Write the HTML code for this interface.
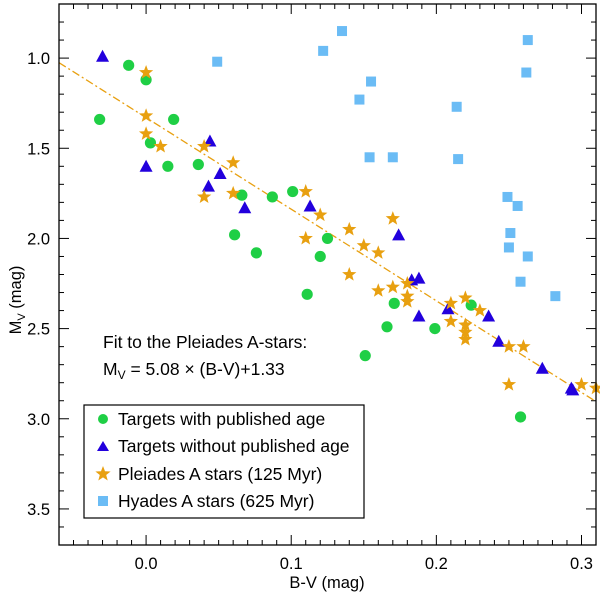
<!DOCTYPE html>
<html><head><meta charset="utf-8"><style>
body{margin:0;background:#fff;}
svg{display:block;font-family:"Liberation Sans",sans-serif;}
</style></head><body>
<svg id="chart" width="600" height="593" viewBox="0 0 600 593" xmlns="http://www.w3.org/2000/svg">
<g id="ticks"></g>
<g id="fit"></g>
<g id="marks"></g>
<rect x="59" y="4" width="537" height="541" fill="none" stroke="#000" stroke-width="1.3"/>
<text x="327" y="588" font-size="16.5" text-anchor="middle">B-V (mag)</text>
<text transform="translate(21,300) rotate(-90)" font-size="16.5" text-anchor="middle">M<tspan font-size="11" dy="4">V</tspan><tspan dy="-4"> (mag)</tspan></text>
<text x="103" y="348" font-size="17.5">Fit to the Pleiades A-stars:</text>
<text x="103" y="375" font-size="17.5">M<tspan font-size="12" dy="4">V</tspan><tspan dy="-4"> = 5.08 × (B-V)+1.33</tspan></text>
<g>
<rect x="84" y="405" width="280" height="113" fill="#fff" stroke="#000" stroke-width="1.2"/>
<circle cx="103" cy="419" r="5" fill="#1fcf45"/>
<text x="118" y="425" font-size="17.5">Targets with published age</text>
<polygon points="103,441 109,451 97,451" fill="#2200dd"/>
<text x="118" y="452" font-size="17.5">Targets without published age</text>
<polygon id="lstar" fill="#e8a010"/>
<text x="118" y="480" font-size="17.5">Pleiades A stars (125 Myr)</text>
<rect x="98" y="496" width="10" height="10" fill="#6bbcf5"/>
<text x="118" y="507" font-size="17.5">Hyades A stars (625 Myr)</text>
</g>
</svg>
<script>
const xTicks=[0.0,0.1,0.2,0.3];
const xTickLabels=["0.0","0.1","0.2","0.3"];
const yTicks=[1.0,1.5,2.0,2.5,3.0,3.5];
const yTickLabels=["1.0","1.5","2.0","2.5","3.0","3.5"];
const fitSlope=5.08, fitIntercept=1.33;
const pubX=[-0.032,-0.012,0,0.019,0.003,0.015,0.036,0.066,0.087,0.101,0.061,0.076,0.111,0.12,0.125,0.171,0.166,0.151,0.199,0.224,0.258];
const pubY=[1.34,1.04,1.12,1.34,1.47,1.60,1.59,1.76,1.77,1.74,1.98,2.08,2.31,2.10,2.00,2.36,2.49,2.65,2.50,2.37,2.99];
const unpubX=[-0.03,0,0.044,0.051,0.043,0.068,0.113,0.174,0.183,0.188,0.188,0.208,0.236,0.243,0.273,0.293,0.294];
const unpubY=[0.99,1.60,1.46,1.64,1.71,1.83,1.82,1.98,2.23,2.22,2.43,2.39,2.43,2.57,2.72,2.83,2.84];
const pleX=[0,0,0,0.01,0.04,0.06,0.06,0.04,0.11,0.11,0.12,0.14,0.15,0.16,0.14,0.17,0.16,0.17,0.18,0.18,0.18,0.21,0.22,0.21,0.22,0.22,0.22,0.23,0.25,0.26,0.25,0.30,0.31];
const pleY=[1.08,1.32,1.42,1.49,1.49,1.58,1.75,1.77,1.74,2.00,1.87,1.95,2.04,2.08,2.20,1.89,2.29,2.27,2.25,2.32,2.35,2.36,2.33,2.46,2.48,2.52,2.56,2.40,2.60,2.60,2.81,2.81,2.83];
const hyaX=[0.049,0.135,0.122,0.155,0.147,0.154,0.17,0.214,0.215,0.263,0.262,0.249,0.256,0.251,0.25,0.263,0.258,0.282];
const hyaY=[1.02,0.85,0.96,1.13,1.23,1.55,1.55,1.27,1.56,0.90,1.08,1.77,1.82,1.97,2.05,2.10,2.24,2.32];

const L=59,R=596,T=4,B=545,XMIN=-0.06,XMAX=0.31,YMIN=0.70,YMAX=3.70;
const sx=v=>L+(v-XMIN)/(XMAX-XMIN)*(R-L);
const sy=v=>T+(v-YMIN)/(YMAX-YMIN)*(B-T);
const NS="http://www.w3.org/2000/svg";
function mk(tag,parent,attrs){const e=document.createElementNS(NS,tag);for(const k in attrs)e.setAttribute(k,attrs[k]);parent.appendChild(e);return e;}
function starPts(cx,cy,r){let p=[];for(let i=0;i<10;i++){const a=-Math.PI/2+i*Math.PI/5;const rr=i%2?r*0.42:r;p.push((cx+rr*Math.cos(a)).toFixed(1)+","+(cy+rr*Math.sin(a)).toFixed(1));}return p.join(" ");}
document.getElementById('lstar').setAttribute('points',starPts(103,474,8));

const tg=document.getElementById('ticks');
for(let i=-6;i<=31;i++){const v=i/100;const x=sx(v);const major=i%10===0;const len=major?10:5;
 let t=mk('line',tg,{x1:x,x2:x,y1:B,y2:B-len,stroke:'#000','stroke-width':1});
 
 
 let t2=mk('line',tg,{x1:x,x2:x,y1:T,y2:T+len,stroke:'#000','stroke-width':1});
 
 }
xTicks.forEach((v,i)=>{const e=mk('text',tg,{x:sx(v),y:569,'font-size':16.5,'text-anchor':'middle'});e.textContent=xTickLabels[i];
 
 });
for(let i=8;i<=36;i++){const v=i/10;const y=sy(v);const major=i%5===0;const len=major?10:5;
 let t=mk('line',tg,{x1:L,x2:L+len,y1:y,y2:y,stroke:'#000','stroke-width':1});
 
 
 let t2=mk('line',tg,{x1:R,x2:R-len,y1:y,y2:y,stroke:'#000','stroke-width':1});
 
 }
yTicks.forEach((v,i)=>{const e=mk('text',tg,{x:50,y:sy(v)+6,'font-size':16.5,'text-anchor':'end'});e.textContent=yTickLabels[i];
 
 });

const fl=mk('line',document.getElementById('fit'),{x1:sx(XMIN),y1:sy(fitSlope*XMIN+fitIntercept),x2:sx(XMAX),y2:sy(fitSlope*XMAX+fitIntercept),stroke:'#e8a010','stroke-width':1.3,'stroke-dasharray':'8,3,2,3'});



const mg=document.getElementById('marks');
hyaX.forEach((v,i)=>{const x=sx(v),y=sy(hyaY[i]);const e=mk('rect',mg,{x:x-5,y:y-5,width:10,height:10,fill:'#6bbcf5'});
 
 });
pubX.forEach((v,i)=>{const e=mk('circle',mg,{cx:sx(v),cy:sy(pubY[i]),r:5.6,fill:'#1fcf45'});
 
 });
unpubX.forEach((v,i)=>{const x=sx(v),y=sy(unpubY[i]);const e=mk('polygon',mg,{points:`${x},${y-6.5} ${x+6.5},${y+5.5} ${x-6.5},${y+5.5}`,fill:'#2200dd'});
 
 });
pleX.forEach((v,i)=>{const e=mk('polygon',mg,{points:starPts(sx(v),sy(pleY[i]),7.5),fill:'#e8a010'});
 
 });
</script>
</body></html>
